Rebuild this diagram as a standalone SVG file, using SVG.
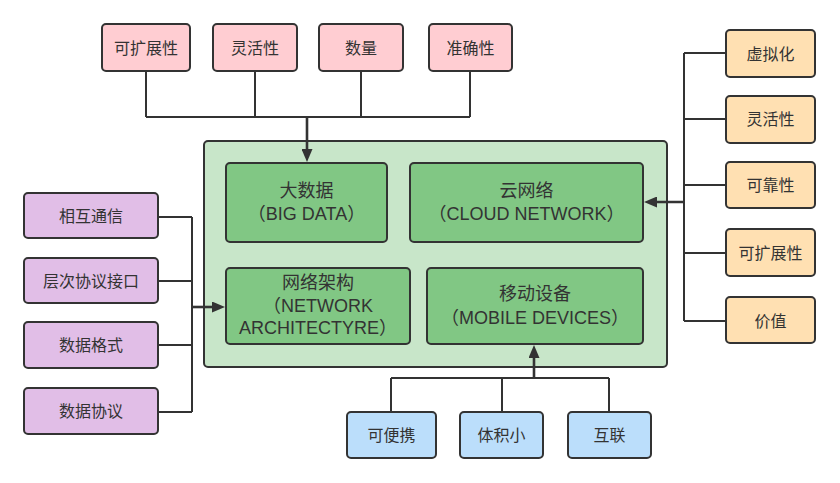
<svg xmlns="http://www.w3.org/2000/svg" width="840" height="483" viewBox="0 0 840 483">
<defs>
<style>
.box{stroke:#333;stroke-width:2}
.pink{fill:#FFCDD2}
.purple{fill:#E1BEE7}
.blue{fill:#BBDEFB}
.orange{fill:#FFE0B2}
.outer{fill:#C8E6C9}
.inner{fill:#81C784}
text{font-family:"Liberation Sans","Noto Sans CJK SC",sans-serif;fill:#333;text-anchor:middle;dominant-baseline:central}
.s{font-size:16px}
.l{font-size:18px}
.c{fill:none;stroke:#333;stroke-width:2}
.a{fill:none;stroke:#333;stroke-width:2.6}
</style>
<marker id="arr" markerUnits="userSpaceOnUse" markerWidth="13" markerHeight="11" refX="7" refY="5.5" orient="auto" viewBox="0 0 13 11">
<path d="M0,0 L13,5.5 L0,11 z" fill="#333"/>
</marker>
</defs>
<rect width="840" height="483" fill="#fff"/>

<g id="container">
<rect class="box outer" x="204" y="141" width="463" height="226" rx="4"/>
</g>
<g id="bigdata">
<rect class="box inner" x="226" y="163" width="161" height="79" rx="4"/>
<text class="l" x="306.5" y="191">大数据</text>
<text class="l" x="306.5" y="214">（BIG DATA）</text>
</g>
<g id="cloud">
<rect class="box inner" x="410" y="163" width="233" height="79" rx="4"/>
<text class="l" x="526.5" y="191">云网络</text>
<text class="l" x="526.5" y="214">（CLOUD NETWORK）</text>
</g>
<g id="netarch">
<rect class="box inner" x="226" y="268" width="184" height="76" rx="4"/>
<text class="l" x="318" y="283">网络架构</text>
<text class="l" x="318" y="306">（NETWORK</text>
<text class="l" x="318" y="328">ARCHITECTYRE）</text>
</g>
<g id="mobile">
<rect class="box inner" x="427" y="268" width="216" height="76" rx="4"/>
<text class="l" x="535" y="294">移动设备</text>
<text class="l" x="535" y="318">（MOBILE DEVICES）</text>
</g>

<g id="top1"><rect class="box pink" x="102" y="24" width="88" height="47" rx="4"/><text class="s" x="146" y="48">可扩展性</text></g>
<g id="top2"><rect class="box pink" x="213" y="24" width="84" height="47" rx="4"/><text class="s" x="255" y="48">灵活性</text></g>
<g id="top3"><rect class="box pink" x="319" y="24" width="84" height="47" rx="4"/><text class="s" x="361" y="48">数量</text></g>
<g id="top4"><rect class="box pink" x="429" y="24" width="83" height="47" rx="4"/><text class="s" x="470.5" y="48">准确性</text></g>

<g id="left1"><rect class="box purple" x="24" y="193" width="134" height="45" rx="4"/><text class="s" x="91" y="216">相互通信</text></g>
<g id="left2"><rect class="box purple" x="24" y="258" width="134" height="45" rx="4"/><text class="s" x="91" y="281">层次协议接口</text></g>
<g id="left3"><rect class="box purple" x="24" y="322" width="134" height="46" rx="4"/><text class="s" x="91" y="345">数据格式</text></g>
<g id="left4"><rect class="box purple" x="24" y="388" width="134" height="46" rx="4"/><text class="s" x="91" y="411">数据协议</text></g>

<g id="bot1"><rect class="box blue" x="347" y="412" width="89" height="46" rx="4"/><text class="s" x="391.5" y="435">可便携</text></g>
<g id="bot2"><rect class="box blue" x="460" y="412" width="83" height="46" rx="4"/><text class="s" x="501.5" y="435">体积小</text></g>
<g id="bot3"><rect class="box blue" x="568" y="412" width="83" height="46" rx="4"/><text class="s" x="609.5" y="435">互联</text></g>

<g id="right1"><rect class="box orange" x="726" y="30" width="89" height="47" rx="4"/><text class="s" x="770.5" y="54">虚拟化</text></g>
<g id="right2"><rect class="box orange" x="726" y="96" width="89" height="47" rx="4"/><text class="s" x="770.5" y="119">灵活性</text></g>
<g id="right3"><rect class="box orange" x="726" y="162" width="89" height="46" rx="4"/><text class="s" x="770.5" y="185">可靠性</text></g>
<g id="right4"><rect class="box orange" x="726" y="229" width="89" height="47" rx="4"/><text class="s" x="770.5" y="253">可扩展性</text></g>
<g id="right5"><rect class="box orange" x="726" y="297" width="89" height="46" rx="4"/><text class="s" x="770.5" y="321">价值</text></g>

<g id="connectors">
<path class="c" d="M146,71 V117 M255,71 V117 M361,71 V117 M470,71 V117 M146,117 H470"/>
<path class="a" d="M307,117 V156" marker-end="url(#arr)"/>
<path class="c" d="M726,53 H684 M726,119 H684 M726,185 H684 M726,253 H684 M726,321 H684 M684,53 V321"/>
<path class="a" d="M684,202 H650" marker-end="url(#arr)"/>
<path class="c" d="M158,217 H192 M158,281 H192 M158,345 H192 M158,412 H192 M192,217 V412"/>
<path class="a" d="M192,307 H219" marker-end="url(#arr)"/>
<path class="c" d="M391,412 V378 M502,412 V378 M609,412 V378 M391,378 H609"/>
<path class="a" d="M534,378 V351" marker-end="url(#arr)"/>
</g>
</svg>
